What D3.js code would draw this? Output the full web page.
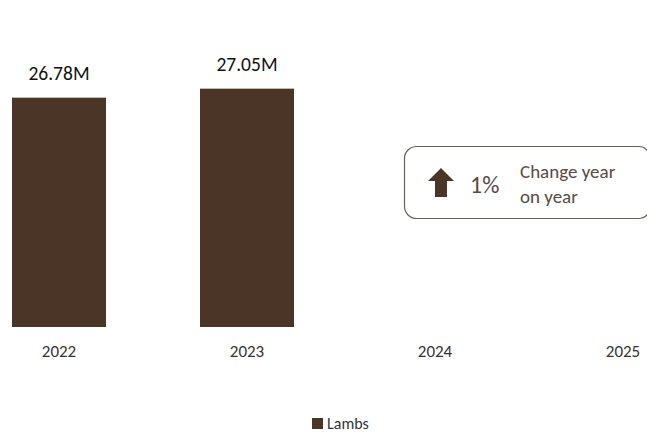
<!DOCTYPE html>
<html>
<head>
<meta charset="utf-8">
<script src="https://cdn.jsdelivr.net/npm/d3@7"></script>
<style>
  body { margin: 0; background: #fff; }
  text { font-family: Carlito, Lato, "Open Sans", sans-serif; }
</style>
</head>
<body>
<div class="barChart"></div>
<script>
var width = 647;
var height = 434;

var years = ['2022', '2023', '2024', '2025'];
var lambs = [26.78, 27.05, null, null];
var valueLabels = ['26.78M', '27.05M', '', ''];
var changeValue = '1%';
var changeText = ['Change year', 'on year'];
var seriesName = 'Lambs';

var barColor = '#4a3526';

var data = years.map(function(y, i) {
    return { year: y, value: lambs[i], label: valueLabels[i] };
});

var x = d3.scaleBand()
    .domain(years)
    .range([-35, 717])
    .paddingInner(0.5)
    .paddingOuter(0.25);
var y = d3.scaleLinear().domain([19.9, 28]).range([327, 57]);

var svg = d3.select(".barChart")
    .append("svg")
    .attr("width", width)
    .attr("height", height)

svg.append("rect")
    .attr("width", width)
    .attr("height", height)
    .attr("fill", "white")

var withValue = data.filter(function(d) { return d.value != null; });

svg.selectAll(".bar")
    .data(withValue)
  .enter().append("rect")
    .attr("class", "bar")
    .attr("x", function(d) { return x(d.year); })
    .attr("y", function(d) { return y(d.value); })
    .attr("width", x.bandwidth())
    .attr("height", function(d) { return y.range()[0] - y(d.value); })
    .attr("fill", barColor)

svg.selectAll(".val")
    .data(withValue)
  .enter().append("text")
    .attr("class", "val")
    .attr("x", function(d) { return x(d.year) + x.bandwidth() / 2; })
    .attr("y", function(d) { return y(d.value) - 17.5; })
    .attr("text-anchor", "middle")
    .attr("font-size", 19.5)
    .attr("fill", "#111")
    .text(function(d) { return d.label; })

// x axis, labels only
var xAxis = d3.axisBottom(x).tickSize(0).tickPadding(0);
var gx = svg.append("g")
    .attr("class", "x axis")
    .attr("transform", "translate(0," + 357 + ")")
    .call(xAxis);
gx.select(".domain").remove();
gx.selectAll("text")
    .attr("font-size", 17)
    .attr("fill", "#333")
    .attr("dy", 0)
    .style("font-family", "Carlito, Lato, 'Open Sans', sans-serif");

// change callout
var box = svg.append("g").attr("transform", "translate(405,147)");
box.append("rect")
    .attr("x", -0.5)
    .attr("y", -0.5)
    .attr("width", 246)
    .attr("height", 72)
    .attr("rx", 12)
    .attr("fill", "white")
    .attr("stroke", "#6e5d52")
    .attr("stroke-width", 1.2)

box.append("path")
    .attr("d", "M36,21 L49,34 L42,34 L42,50 L30,50 L30,34 L23,34 Z")
    .attr("fill", barColor)

box.append("text")
    .attr("x", 65)
    .attr("y", 46)
    .attr("font-size", 24)
    .attr("fill", "#5a4a42")
    .text(changeValue)

box.selectAll(".ct")
    .data(changeText)
  .enter().append("text")
    .attr("class", "ct")
    .attr("x", 115)
    .attr("y", function(d, i) { return 31 + i * 25; })
    .attr("font-size", 19)
    .attr("fill", "#5a4a42")
    .text(function(d) { return d; })

// legend
var legend = svg.append("g").attr("transform", "translate(312,418)");
legend.append("rect")
    .attr("width", 11)
    .attr("height", 11)
    .attr("fill", barColor)
legend.append("text")
    .attr("x", 15)
    .attr("y", 11)
    .attr("font-size", 16)
    .attr("fill", "#333")
    .text(seriesName)
</script>
</body>
</html>
